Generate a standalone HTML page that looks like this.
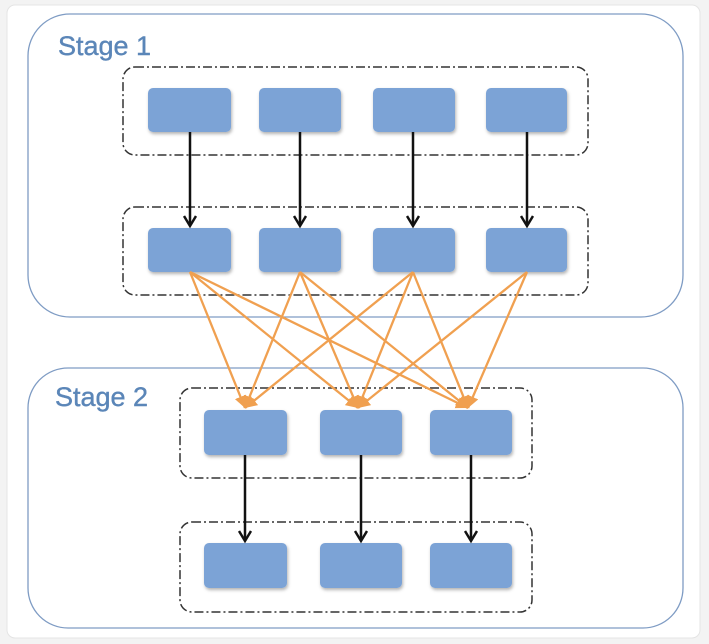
<!DOCTYPE html>
<html><head><style>
body{margin:0;background:#f3f3f3;}
</style></head><body>
<svg width="709" height="644" xmlns="http://www.w3.org/2000/svg" style="display:block">
<defs>
<marker id="ab" markerWidth="14" markerHeight="14" refX="11" refY="7" orient="auto" markerUnits="userSpaceOnUse"><path d="M1,1 L11,7 L1,13" fill="none" stroke="#111" stroke-width="2.5"/></marker>
<marker id="ao" markerWidth="14" markerHeight="14" refX="12" refY="7" orient="auto" markerUnits="userSpaceOnUse"><path d="M0,1 L12,7 L0,13 Z" fill="#f0a050"/></marker>
<filter id="sh"><feDropShadow dx="1" dy="2" stdDeviation="1.5" flood-opacity="0.3"/></filter>
</defs>
<rect x="7" y="5" width="693" height="633" rx="8" fill="#fff" stroke="#e4e4e4"/>
<rect x="28" y="14" width="655" height="303" rx="42" fill="none" stroke="#7f9cc4" stroke-width="1.3"/>
<rect x="28" y="368" width="655" height="260" rx="40" fill="none" stroke="#7f9cc4" stroke-width="1.3"/>
<text x="58" y="55" font-family="Liberation Sans, sans-serif" font-size="27" fill="#5b86b8" stroke="#5b86b8" stroke-width="0.4">Stage 1</text>
<text x="55" y="406" font-family="Liberation Sans, sans-serif" font-size="27" fill="#5b86b8" stroke="#5b86b8" stroke-width="0.4">Stage 2</text>
<g fill="none" stroke="#333" stroke-width="1.5" stroke-dasharray="9,3,2,3">
<rect x="123" y="67" width="465" height="88" rx="12"/>
<rect x="123" y="207" width="465" height="88" rx="12"/>
<rect x="180" y="388" width="352" height="90" rx="12"/>
<rect x="180" y="522" width="352" height="90" rx="12"/>
</g>
<g fill="#7ba3d6" filter="url(#sh)">
<rect x="148" y="88" width="83" height="44" rx="5"/><rect x="259" y="88" width="82" height="44" rx="5"/><rect x="373" y="88" width="82" height="44" rx="5"/><rect x="486" y="88" width="81" height="44" rx="5"/>
<rect x="148" y="228" width="83" height="44" rx="5"/><rect x="259" y="228" width="82" height="44" rx="5"/><rect x="373" y="228" width="82" height="44" rx="5"/><rect x="486" y="228" width="81" height="44" rx="5"/>
<rect x="204" y="410" width="83" height="45" rx="5"/><rect x="320" y="410" width="82" height="45" rx="5"/><rect x="430" y="410" width="82" height="45" rx="5"/>
<rect x="204" y="543" width="83" height="45" rx="5"/><rect x="320" y="543" width="82" height="45" rx="5"/><rect x="430" y="543" width="82" height="45" rx="5"/>
</g>
<g stroke="#111" stroke-width="2.5" marker-end="url(#ab)">
<line x1="190" y1="132" x2="190" y2="226"/><line x1="300" y1="132" x2="300" y2="226"/><line x1="413" y1="132" x2="413" y2="226"/><line x1="527" y1="132" x2="527" y2="226"/>
<line x1="245" y1="455" x2="245" y2="541"/><line x1="361" y1="455" x2="361" y2="541"/><line x1="471" y1="455" x2="471" y2="541"/>
</g>
<g stroke="#f0a050" stroke-width="2.3" marker-end="url(#ao)">
<line x1="190" y1="272" x2="245" y2="408"/><line x1="190" y1="272" x2="358" y2="408"/><line x1="190" y1="272" x2="468" y2="408"/>
<line x1="300" y1="272" x2="245" y2="408"/><line x1="300" y1="272" x2="358" y2="408"/><line x1="300" y1="272" x2="468" y2="408"/>
<line x1="413" y1="272" x2="245" y2="408"/><line x1="413" y1="272" x2="358" y2="408"/><line x1="413" y1="272" x2="468" y2="408"/>
<line x1="527" y1="272" x2="358" y2="408"/><line x1="527" y1="272" x2="468" y2="408"/>
</g>
</svg>
</body></html>
